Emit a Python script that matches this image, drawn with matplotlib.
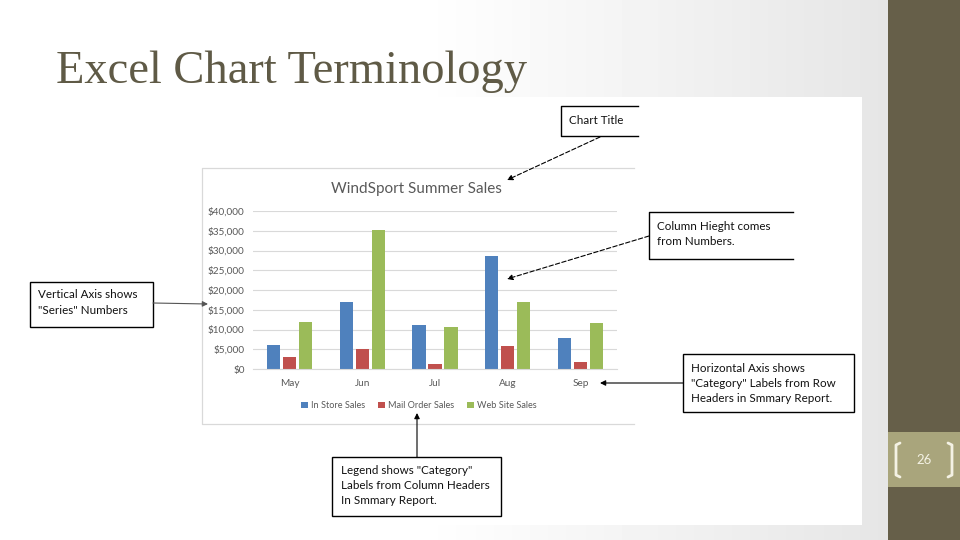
import numpy as np
import matplotlib
matplotlib.use("Agg")
import matplotlib.pyplot as plt
from matplotlib.patches import Rectangle

# data
months = ["May", "Jun", "Jul", "Aug", "Sep"]
in_store = [6100, 17000, 11200, 28500, 7900]
mail_order = [3000, 5100, 1300, 5800, 1800]
web_site = [12000, 35100, 10700, 17000, 11700]
series_names = ["In Store Sales", "Mail Order Sales", "Web Site Sales"]
series_colors = ["#4f81bd", "#c0504d", "#9bbb59"]
yticks = [0, 5000, 10000, 15000, 20000, 25000, 30000, 35000, 40000]

W, H = 960, 540
fig = plt.figure(figsize=(9.6, 5.4), dpi=100)

def px_axes(x0, y0, x1, y1, **kw):
    # axes from pixel box (top-left origin)
    return fig.add_axes([x0 / W, 1 - y1 / H, (x1 - x0) / W, (y1 - y0) / H], **kw)

# --- slide background ---
bg = px_axes(0, 0, W, H, zorder=0)
bg.set_xlim(0, W)
bg.set_ylim(H, 0)
bg.axis("off")
xs = np.linspace(0, W, 480)
ramp = np.clip(1 - 0.1 * np.clip((xs - 420) / 470, 0, 1), 0, 1)
grad = np.tile(ramp, (60, 1))
bg.imshow(grad, cmap="gray", vmin=0, vmax=1, extent=[0, W, H, 0], aspect="auto")
bg.add_patch(Rectangle((150, 97), 712, 428, facecolor="white", edgecolor="none"))
bg.add_patch(Rectangle((888, 0), 72, H, facecolor="#665f49", edgecolor="none"))
bg.add_patch(Rectangle((888, 432), 72, 55, facecolor="#a9a57c", edgecolor="none"))
br = "#f4f2e4"
bg.plot([900, 896, 896, 900], [443, 445, 475, 477], color=br, lw=2, solid_capstyle="round")
bg.plot([948, 952, 952, 948], [443, 445, 475, 477], color=br, lw=2, solid_capstyle="round")
bg.text(924, 460, "26", color=br, fontsize=9.5, family="Lato", ha="center", va="center")
bg.text(56, 72, "Excel Chart Terminology", color="#5f5a46", fontsize=33.5,
        family="Liberation Serif", ha="left", va="center")

# Excel chart frame (right side cut off)
fc = "#d9d9d9"
bg.plot([634, 202, 202, 634], [168, 168, 424, 424], color=fc, lw=0.9)

# --- the bar chart ---
ax = px_axes(253, 211, 617, 369, zorder=1)
ax.set_facecolor("none")
x = np.arange(len(months))
w = 0.18
for vals, off, name, col in zip([in_store, mail_order, web_site], [-0.22, 0, 0.22],
                                series_names, series_colors):
    ax.bar(x + off, vals, width=w, color=col, label=name, zorder=2)
ax.set_xlim(-0.5, 4.5)
ax.set_ylim(0, 40000)
ax.set_yticks(yticks)
ax.set_yticklabels(["$%s" % format(v, ",") for v in yticks])
ax.set_xticks(x)
ax.set_xticklabels(months)
ax.grid(axis="y", color="#d9d9d9", lw=0.8, zorder=0)
ax.set_axisbelow(True)
for s in ["top", "right", "left"]:
    ax.spines[s].set_visible(False)
ax.spines["bottom"].set_color("#d9d9d9")
ax.tick_params(length=0, labelsize=7.2, labelcolor="#595959")
ax.tick_params(axis="y", pad=6)
ax.tick_params(axis="x", pad=7)
for lab in ax.get_xticklabels() + ax.get_yticklabels():
    lab.set_family("Lato")
ax.text(0.448, 1.139, "WindSport Summer Sales", transform=ax.transAxes, ha="center",
        va="center", fontsize=11, color="#595959", family="Lato")
ax.legend(loc="center", bbox_to_anchor=(0.456, -0.234), ncol=3, frameon=False,
          prop={"family": "Lato", "size": 6.6}, labelcolor="#595959",
          handlelength=0.7, handleheight=0.7, columnspacing=1.4, handletextpad=0.4)

# --- callouts on top ---
ov = px_axes(0, 0, W, H, zorder=3)
ov.set_facecolor("none")
ov.set_xlim(0, W)
ov.set_ylim(H, 0)
ov.axis("off")

def box(x0, y0, x1, y1, lines, tx, ty, open_right=False):
    if open_right:
        ov.plot([x1, x0, x0, x1], [y0, y0, y1, y1], color="black", lw=1)
    else:
        ov.add_patch(Rectangle((x0, y0), x1 - x0, y1 - y0, facecolor="white",
                               edgecolor="black", lw=1))
    for i, t in enumerate(lines):
        ov.text(tx, ty + i * 15.5, t, fontsize=8.4, family="Lato", color="#111111",
                ha="left", va="center")

def arrow(x0, y0, x1, y1, ls="-", col="black"):
    ov.annotate("", xy=(x1, y1), xytext=(x0, y0),
                arrowprops=dict(arrowstyle="-|>", color=col, lw=0.8, linestyle=ls,
                                mutation_scale=8, shrinkA=0, shrinkB=0))

box(561, 106, 638, 136, ["Chart Title"], 569, 120, open_right=True)
arrow(600, 137, 507, 180, ls=(0, (4, 2)))

box(649, 212, 793, 259, ["Column Hieght comes", "from Numbers."], 657, 226, open_right=True)
arrow(649, 236, 507, 279, ls=(0, (4, 2)))

box(30, 282, 153, 327, ["Vertical Axis shows", "\"Series\" Numbers"], 38, 295)
arrow(153, 303, 208, 304, col="#555555")

box(683, 354, 854, 412, ["Horizontal Axis shows", "\"Category\" Labels from Row",
                         "Headers in Smmary Report."], 691, 368)
arrow(683, 383, 600, 383)

box(332, 457, 501, 516, ["Legend shows \"Category\"", "Labels from Column Headers",
                         "In Smmary Report."], 341, 470)
arrow(417, 457, 417, 413)

plt.savefig("out.png", dpi=100)
